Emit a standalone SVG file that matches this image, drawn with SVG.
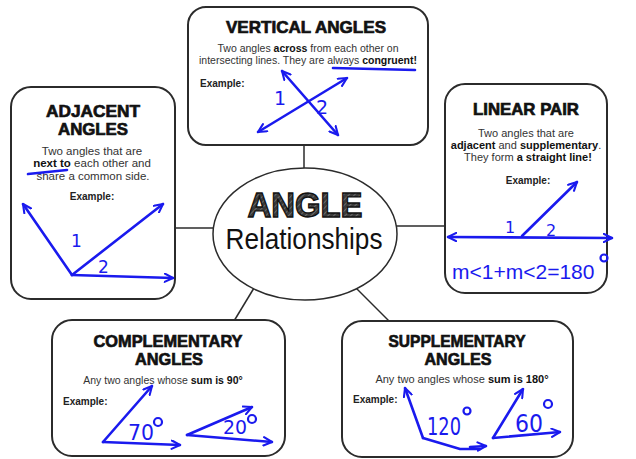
<svg xmlns="http://www.w3.org/2000/svg" width="636" height="459" viewBox="0 0 636 459">
<defs>
<style>
.box{fill:#fff;stroke:#2b2b2b;stroke-width:2}
.conn{stroke:#2b2b2b;stroke-width:1.5;fill:none}
.title{font-family:"Liberation Sans",Arial,sans-serif;font-weight:bold;font-size:17px;fill:#111;stroke:#111;stroke-width:0.7;text-anchor:middle}
.desc{font-family:"Liberation Sans",Arial,sans-serif;font-size:10.5px;fill:#333;text-anchor:middle}
.desc2{font-family:"Liberation Sans",Arial,sans-serif;font-size:11.5px;fill:#333;text-anchor:middle}
.desc3{font-family:"Liberation Sans",Arial,sans-serif;font-size:11px;fill:#333;text-anchor:middle}
.b{font-weight:bold;fill:#111}
.ex{font-family:"Liberation Sans",Arial,sans-serif;font-size:10px;font-weight:bold;fill:#222}
.ink{stroke:#1a1aee;stroke-width:2.6;fill:none;stroke-linecap:round;stroke-linejoin:round}
.inkarrow{stroke:#1a1aee;stroke-width:2.6;fill:none;stroke-linecap:round;stroke-linejoin:round;marker-end:url(#ah)}
.inkboth{stroke:#1a1aee;stroke-width:2.6;fill:none;stroke-linecap:round;stroke-linejoin:round;marker-end:url(#ah);marker-start:url(#ah)}
.hand{font-family:"DejaVu Sans",sans-serif;fill:#1a1aee}
.deg{fill:none;stroke:#1a1aee;stroke-width:2.2}
</style>
<marker id="ah" viewBox="0 0 10 10" refX="9" refY="5" markerWidth="4" markerHeight="4" orient="auto-start-reverse" markerUnits="strokeWidth">
<path d="M1,1 L9,5 L1,9" fill="none" stroke="#1a1aee" stroke-width="2" stroke-linecap="round" stroke-linejoin="round"/>
</marker>
<pattern id="hatch" width="4" height="4" patternUnits="userSpaceOnUse" patternTransform="rotate(45)">
<rect width="4" height="4" fill="#3a3a3a"/>
<line x1="0" y1="0" x2="0" y2="4" stroke="#8a8a8a" stroke-width="1.2"/>
</pattern>
</defs>

<g id="connectors">
<line class="conn" x1="304" y1="145" x2="304" y2="168"/>
<line class="conn" x1="174" y1="228" x2="214" y2="228"/>
<line class="conn" x1="396" y1="226" x2="446" y2="226"/>
<line class="conn" x1="254" y1="288" x2="234" y2="321"/>
<line class="conn" x1="356" y1="288" x2="390" y2="322"/>
</g>

<g id="center">
<ellipse cx="305" cy="234" rx="92" ry="66" fill="#fff" stroke="#2b2b2b" stroke-width="1.5"/>
<text x="305" y="217" text-anchor="middle" font-family="Liberation Sans,Arial,sans-serif" font-weight="bold" font-size="35" fill="url(#hatch)" stroke="#111" stroke-width="1.4" textLength="115" lengthAdjust="spacingAndGlyphs">ANGLE</text>
<text x="304" y="249" text-anchor="middle" font-family="Liberation Sans,Arial,sans-serif" font-size="30" fill="#111" textLength="157" lengthAdjust="spacingAndGlyphs">Relationships</text>
</g>

<g id="vertical">
<rect class="box" x="188" y="7" width="240" height="138" rx="18"/>
<text class="title" x="306" y="33" textLength="160" lengthAdjust="spacingAndGlyphs">VERTICAL ANGLES</text>
<text class="desc" x="308" y="52">Two angles <tspan class="b">across</tspan> from each other on</text>
<text class="desc" x="308" y="64">intersecting lines.  They are always <tspan class="b">congruent!</tspan></text>
<text class="ex" x="200" y="87">Example:</text>
<line class="ink" x1="333" y1="68" x2="415" y2="70"/>
<line class="inkboth" x1="282" y1="71" x2="338" y2="135"/>
<line class="inkboth" x1="258" y1="132" x2="347" y2="78"/>
<text class="hand" x="274" y="105" font-size="19">1</text>
<text class="hand" x="316" y="114" font-size="19">2</text>
</g>

<g id="adjacent">
<rect class="box" x="11" y="87" width="164" height="212" rx="20"/>
<text class="title" x="93" y="117" textLength="94" lengthAdjust="spacingAndGlyphs">ADJACENT</text>
<text class="title" x="93" y="135" textLength="70" lengthAdjust="spacingAndGlyphs">ANGLES</text>
<text class="desc2" x="92" y="155">Two angles that are</text>
<text class="desc2" x="92" y="167"><tspan class="b">next to</tspan> each other and</text>
<text class="desc2" x="93" y="180">share a common side.</text>
<text class="ex" x="92" y="200" text-anchor="middle">Example:</text>
<line class="ink" x1="28" y1="174" x2="67" y2="170"/>
<line class="inkarrow" x1="72" y1="275" x2="23" y2="204"/>
<line class="inkarrow" x1="72" y1="275" x2="163" y2="204"/>
<line class="inkarrow" x1="72" y1="275" x2="173" y2="278"/>
<text class="hand" x="71" y="247" font-size="17">1</text>
<text class="hand" x="98" y="273" font-size="17">2</text>
</g>

<g id="linear">
<rect class="box" x="445" y="84" width="162" height="209" rx="20"/>
<text class="title" x="526" y="115" textLength="106" lengthAdjust="spacingAndGlyphs">LINEAR PAIR</text>
<text class="desc3" x="526" y="137">Two angles that are</text>
<text class="desc3" x="526" y="149"><tspan class="b">adjacent</tspan> and <tspan class="b">supplementary</tspan>.</text>
<text class="desc3" x="528" y="161">They form <tspan class="b">a straight line!</tspan></text>
<text class="ex" x="528" y="184" text-anchor="middle">Example:</text>
<line class="inkboth" x1="448" y1="237" x2="612" y2="238"/>
<line class="inkarrow" x1="522" y1="236" x2="577" y2="182"/>
<text class="hand" x="505" y="233" font-size="16">1</text>
<text class="hand" x="546" y="236" font-size="16">2</text>
<text x="452" y="279" font-family="Liberation Sans,Arial,sans-serif" font-size="21" fill="#1a1aee">m&lt;1+m&lt;2=180</text>
<circle class="deg" cx="604" cy="258" r="3.5"/>
</g>

<g id="complementary">
<rect class="box" x="52" y="320" width="233" height="136" rx="20"/>
<text class="title" x="168" y="347" textLength="149" lengthAdjust="spacingAndGlyphs">COMPLEMENTARY</text>
<text class="title" x="169" y="365" textLength="68" lengthAdjust="spacingAndGlyphs">ANGLES</text>
<text class="desc" x="163" y="384">Any two angles whose <tspan class="b">sum is 90°</tspan></text>
<text class="ex" x="63" y="405">Example:</text>
<line class="inkarrow" x1="103" y1="442" x2="152" y2="386"/>
<line class="inkarrow" x1="103" y1="442" x2="180" y2="445"/>
<text class="hand" x="128" y="440" font-size="22" textLength="26" lengthAdjust="spacingAndGlyphs">70</text>
<circle class="deg" cx="158" cy="422" r="4"/>
<line class="inkarrow" x1="187" y1="435" x2="252" y2="407"/>
<line class="inkarrow" x1="187" y1="435" x2="272" y2="442"/>
<text class="hand" x="223" y="434" font-size="20" textLength="24" lengthAdjust="spacingAndGlyphs">20</text>
<circle class="deg" cx="252" cy="419" r="4"/>
</g>

<g id="supplementary">
<rect class="box" x="342" y="321" width="231" height="136" rx="20"/>
<text class="title" x="457" y="347" textLength="137" lengthAdjust="spacingAndGlyphs">SUPPLEMENTARY</text>
<text class="title" x="458" y="365" textLength="67" lengthAdjust="spacingAndGlyphs">ANGLES</text>
<text class="desc3" x="462" y="383">Any two angles whose <tspan class="b">sum is 180°</tspan></text>
<text class="ex" x="353" y="403">Example:</text>
<line class="inkarrow" x1="423" y1="438" x2="405" y2="388"/>
<polyline class="ink" points="423,438 460,449 480,449"/>
<line class="inkarrow" x1="470" y1="447" x2="486" y2="446"/>
<text class="hand" x="427" y="435" font-size="24" textLength="34" lengthAdjust="spacingAndGlyphs">120</text>
<circle class="deg" cx="467" cy="411" r="3.5"/>
<line class="inkarrow" x1="493" y1="438" x2="523" y2="389"/>
<line class="inkarrow" x1="493" y1="438" x2="560" y2="432"/>
<text class="hand" x="515" y="432" font-size="24" textLength="28" lengthAdjust="spacingAndGlyphs">60</text>
<circle class="deg" cx="548" cy="404" r="4"/>
</g>
</svg>
